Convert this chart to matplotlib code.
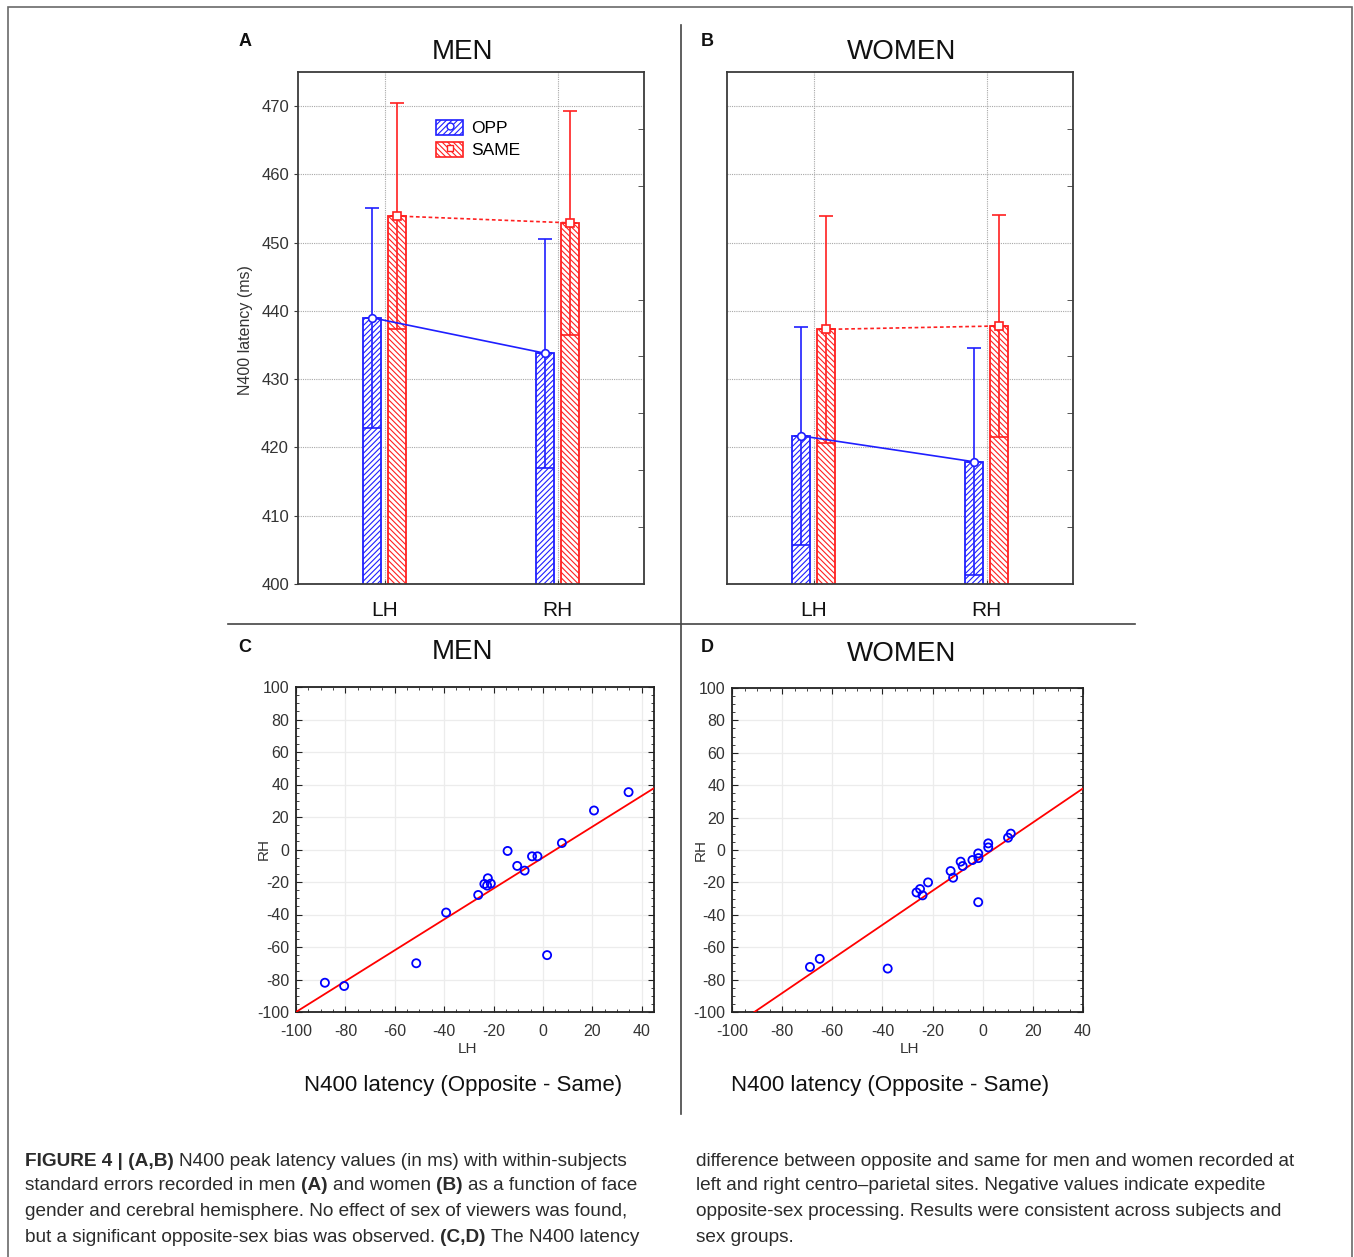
import numpy as np
import matplotlib
matplotlib.use('Agg')
import matplotlib.pyplot as plt
from matplotlib.patches import Patch, Rectangle
from matplotlib.lines import Line2D
from matplotlib.ticker import FixedLocator, MultipleLocator

plt.rcParams['font.family'] = ['Liberation Sans', 'DejaVu Sans']
plt.rcParams['hatch.linewidth'] = 0.8
plt.rcParams['axes.unicode_minus'] = False

# ---------------- data ----------------
hemispheres = ['LH', 'RH']

men_opp = [439.0, 433.8]
men_opp_se = [16.1, 16.8]
men_same = [453.9, 452.9]
men_same_se = [16.6, 16.4]

women_opp = [421.7, 417.9]
women_opp_se = [16.0, 16.6]
women_same = [437.3, 437.8]
women_same_se = [16.6, 16.3]

men_lh = [-88.3, -80.5, -51.3, -39.2, -26.2, -23.7, -22.3, -22.6, -21.1, -14.3,
          -10.4, -7.4, -4.4, -2.2, 1.7, 7.7, 20.7, 34.7]
men_rh = [-82.0, -84.0, -70.0, -38.8, -28.0, -21.2, -17.7, -22.2, -21.0, -0.9,
          -10.1, -13.0, -4.2, -4.2, -65.0, 4.0, 24.0, 35.3]

women_lh = [-68.9, -65.0, -37.9, -26.4, -25.0, -24.0, -21.8, -12.8, -11.8, -8.8,
            -8.0, -4.1, -1.8, -1.7, -1.8, 2.2, 2.2, 10.1, 11.2]
women_rh = [-72.2, -67.2, -73.2, -26.2, -24.1, -28.0, -20.0, -13.0, -17.1, -7.2,
            -9.9, -6.2, -2.1, -5.0, -32.2, 4.1, 1.6, 7.6, 10.1]

men_fit = (0.95, -5.0)      # slope, intercept
women_fit = (1.053, -4.1)

bar_yticks = [400, 410, 420, 430, 440, 450, 460, 470]
scatter_ticks = [-100, -80, -60, -40, -20, 0, 20, 40, 60, 80, 100]

# ---------------- figure ----------------
W, H = 1354, 1257
fig = plt.figure(figsize=(W / 100, H / 100), dpi=100)
fig.patch.set_facecolor('white')


def fx(x):
    return x / W


def fy(y):
    return 1 - y / H


def axes_px(l, t, r, b):
    return fig.add_axes([fx(l), fy(b), (r - l) / W, (b - t) / H])


BLUE = '#1f1fff'
RED = '#ff2020'
SPINE = '#3a3a3a'
FWD = '/' * 6
BACK = '\\' * 6


def bar_panel(ax, opp, opp_se, same, same_se, show_left, legend=False):
    x = np.arange(len(hemispheres))
    off, w = 0.072, 0.104
    opp = np.array(opp); same = np.array(same)
    opp_se = np.array(opp_se); same_se = np.array(same_se)
    ax.set_xlim(-0.5, 1.5)
    ax.set_ylim(400, 475)
    for xs, m, se, col, hat, mk, ls in [
        (x - off, opp, opp_se, BLUE, FWD, 'o', '-'),
        (x + off, same, same_se, RED, BACK, 's', (0, (2.2, 1.6)))]:
        ax.bar(xs, m, width=w, facecolor='white', edgecolor=col, hatch=hat,
               linewidth=1.3, zorder=2)
        ax.errorbar(xs, m, yerr=[np.zeros_like(se), se], fmt='none', ecolor=col,
                    elinewidth=1.2, capsize=5, capthick=1.2, zorder=3)
        ax.vlines(xs, m - se, m, color=col, lw=1.2, zorder=3)
        ax.hlines(m - se, xs - w / 2, xs + w / 2, color=col, lw=1.2, zorder=3)
        ax.plot(xs, m, color=col, lw=1.2, ls=ls, marker=mk, mfc='white',
                mec=col, ms=5.5, mew=1.2, zorder=5)
    ax.set_xticks(x)
    ax.set_xticklabels(hemispheres, fontsize=15, color='#111')
    ax.set_yticks(bar_yticks)
    ax.yaxis.set_minor_locator(FixedLocator(np.linspace(400, 475, 10)[1:-1]))
    ax.tick_params(axis='y', which='major', labelsize=12, labelcolor='#333',
                   direction='out', length=3, left=show_left,
                   labelleft=show_left, color=SPINE)
    ax.tick_params(axis='y', which='minor', left=False, right=True,
                   direction='in', length=4, color=SPINE)
    ax.tick_params(axis='x', direction='in', length=3, pad=12, color=SPINE)
    ax.grid(True, which='major', ls=(0, (1, 1)), color='#a8a8a8', lw=0.8)
    ax.set_axisbelow(True)
    for s in ax.spines.values():
        s.set_color(SPINE)
        s.set_linewidth(1.3)
    if legend:
        h1 = (Patch(facecolor='white', edgecolor=BLUE, hatch=FWD, lw=1.2),
              Line2D([], [], marker='o', color=BLUE, mfc='white', ls='none', ms=5))
        h2 = (Patch(facecolor='white', edgecolor=RED, hatch=BACK, lw=1.2),
              Line2D([], [], marker='s', color=RED, mfc='white', ls='none', ms=5))
        ax.legend([h1, h2], ['OPP', 'SAME'], loc='upper left',
                  bbox_to_anchor=(0.399, 0.907), frameon=False, fontsize=12.5,
                  handlelength=1.55, handleheight=1.0, labelspacing=0.3,
                  handletextpad=0.45, borderpad=0, borderaxespad=0)


def scatter_panel(ax, lh, rh, fit, xmax, xlab_x, ylab_x):
    ax.set_xlim(-100, xmax)
    ax.set_ylim(-100, 100)
    ax.scatter(lh, rh, s=34, facecolors='none', edgecolors='blue', lw=1.3,
               zorder=4, clip_on=False)
    xs = np.array(ax.get_xlim())
    ax.plot(xs, fit[0] * xs + fit[1], color='red', lw=1.3, zorder=3)
    ax.set_xticks([t for t in scatter_ticks if t <= 40])
    ax.set_yticks(scatter_ticks)
    ax.xaxis.set_minor_locator(MultipleLocator(5))
    ax.yaxis.set_minor_locator(MultipleLocator(5))
    ax.tick_params(which='both', direction='in', top=True, right=True,
                   color='#222', labelsize=11.5, labelcolor='#333')
    ax.tick_params(which='major', length=4)
    ax.tick_params(which='minor', length=2.5)
    ax.tick_params(axis='x', pad=9)
    ax.tick_params(axis='y', pad=5)
    ax.grid(True, which='major', color='#ececec', lw=0.9)
    ax.set_axisbelow(True)
    for s in ax.spines.values():
        s.set_color('#222')
        s.set_linewidth(1.3)
    ax.set_xlabel('LH', fontsize=11, color='#333')
    ax.set_ylabel('RH', fontsize=11, color='#333')
    ax.xaxis.set_label_coords(xlab_x, -0.093)
    ax.yaxis.set_label_coords(ylab_x, 0.5)


axA = axes_px(298, 72, 644, 584)
bar_panel(axA, men_opp, men_opp_se, men_same, men_same_se, True, legend=True)
axA.set_ylabel('N400 latency (ms)', fontsize=11.5, color='#333')
axA.yaxis.set_label_coords(-0.13, 0.496)

axB = axes_px(727, 72, 1073, 584)
bar_panel(axB, women_opp, women_opp_se, women_same, women_same_se, False)

axC = axes_px(296, 687, 654, 1012)
scatter_panel(axC, men_lh, men_rh, men_fit, 45, 0.48, -0.07)

axD = axes_px(732, 688, 1083, 1012)
scatter_panel(axD, women_lh, women_rh, women_fit, 40, 0.507, -0.068)

# titles and panel letters
for (x, y, s) in [(463, 52, 'MEN'), (902, 52, 'WOMEN'),
                  (463, 652, 'MEN'), (902, 654, 'WOMEN')]:
    fig.text(fx(x), fy(y), s, fontsize=20, ha='center', va='center', color='#111')
for (x, y, s) in [(245, 42, 'A'), (707, 42, 'B'), (245, 647, 'C'), (707, 647, 'D')]:
    fig.text(fx(x), fy(y), s, fontsize=13, fontweight='bold', ha='center',
             va='center', color='#111')
for x in (463, 890):
    fig.text(fx(x), fy(1085), 'N400 latency (Opposite - Same)', fontsize=16,
             ha='center', va='center', color='#111')

# divider lines and outer frame
fig.add_artist(Line2D([fx(681), fx(681)], [fy(25), fy(1114)],
                      transform=fig.transFigure, color='#444', lw=1.2))
fig.add_artist(Line2D([fx(228), fx(1135)], [fy(624), fy(624)],
                      transform=fig.transFigure, color='#444', lw=1.2))
fig.add_artist(Rectangle((fx(8), -0.05), (1352 - 8) / W, fy(7) + 0.05,
                         transform=fig.transFigure, fill=False,
                         edgecolor='#6a6a6a', lw=1.2))

# caption
renderer = fig.canvas.get_renderer()
CAP_SIZE = 13.7
CAP_COLOR = '#2b2b2b'


def text_width(s, bold):
    t = fig.text(0, 0, s, fontsize=CAP_SIZE,
                 fontweight='bold' if bold else 'normal')
    wdt = t.get_window_extent(renderer).width
    t.remove()
    return wdt


space_w = text_width('a a', False) - text_width('aa', False)


def rich_line(x_px, y_px, segments):
    x = x_px
    for i, (s, bold) in enumerate(segments):
        t = fig.text(fx(x), fy(y_px), s, fontsize=CAP_SIZE,
                     fontweight='bold' if bold else 'normal', ha='left',
                     va='center', color=CAP_COLOR)
        x += t.get_window_extent(renderer).width + space_w


col1 = [
    [('FIGURE 4 | (A,B)', True), ('N400 peak latency values (in ms) with within-subjects', False)],
    [('standard errors recorded in men', False), ('(A)', True), ('and women', False),
     ('(B)', True), ('as a function of face', False)],
    [('gender and cerebral hemisphere. No effect of sex of viewers was found,', False)],
    [('but a significant opposite-sex bias was observed.', False), ('(C,D)', True),
     ('The N400 latency', False)],
]
col2 = [
    'difference between opposite and same for men and women recorded at',
    'left and right centro\u2013parietal sites. Negative values indicate expedite',
    'opposite-sex processing. Results were consistent across subjects and',
    'sex groups.',
]
line_y = [1161, 1186, 1212, 1237]
for segs, y in zip(col1, line_y):
    rich_line(25, y, segs)
for s, y in zip(col2, line_y):
    fig.text(fx(696), fy(y), s, fontsize=CAP_SIZE, ha='left', va='center',
             color=CAP_COLOR)

fig.savefig('out.png', dpi=100, facecolor='white')
